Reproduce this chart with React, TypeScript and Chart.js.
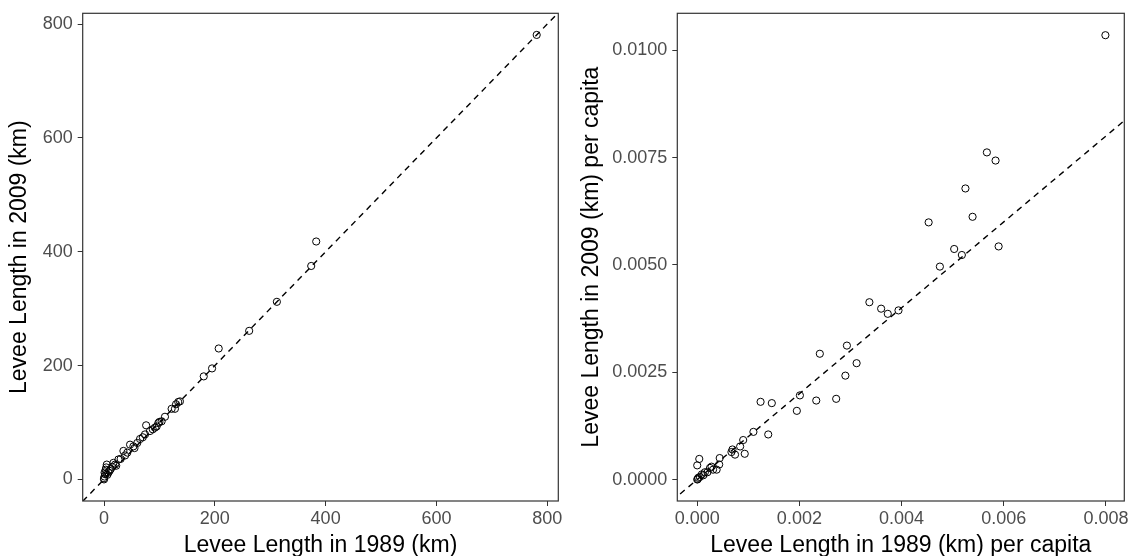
import React, { useEffect, useRef } from "react";
import { Chart, registerables } from "chart.js";
Chart.register(...registerables);

// Left panel: total levee length (km)
const levee1989 = [781, 383, 374, 312, 262, 207, 195, 180, 137, 134, 130, 128, 122, 110, 104, 100, 98, 95, 92, 76, 74, 70, 65, 60, 53, 47, 42, 35, 30, 26, 20, 17, 12, 10, 8, 5, 4, 3, 2, 1, 0, 0, 1, 6, 15, 22, 38, 55, 83, 88];
const levee2009 = [781, 418, 375, 312, 261, 230, 195, 181, 137, 136, 132, 124, 124, 110, 102, 101, 99, 93, 91, 95, 79, 74, 71, 64, 58, 61, 47, 50, 36, 35, 26, 29, 18, 15, 12, 26, 21, 17, 9, 5, 0, 2, 12, 8, 22, 24, 42, 55, 85, 88];

// Right panel: levee length per capita
const perCap1989 = [0.00799, 0.00567, 0.00584, 0.00525, 0.00539, 0.00453, 0.00503, 0.00518, 0.0059, 0.00475, 0.00337, 0.0036, 0.00373, 0.00394, 0.00293, 0.0024, 0.00312, 0.0029, 0.00201, 0.00233, 0.00272, 0.00124, 0.00146, 0.00195, 0.0011, 0.00139, 0.0009, 0.00084, 0.00069, 0.00067, 0.00074, 0.00093, 0.00044, 0.00004, 0.0, 0.00043, 0.00038, 0.00025, 0.00015, 0.00009, 0.00002, 0.0, 0.00031, 0.0002, 0.00012, 0.00005, 0.00028, 0.00001];
const perCap2009 = [0.01035, 0.00762, 0.00743, 0.00678, 0.00612, 0.00599, 0.00537, 0.00523, 0.00543, 0.00496, 0.00413, 0.00398, 0.00386, 0.00394, 0.00312, 0.00293, 0.00271, 0.00242, 0.00196, 0.00184, 0.00188, 0.00181, 0.00178, 0.0016, 0.00111, 0.00105, 0.00092, 0.00077, 0.0007, 0.00064, 0.00058, 0.0006, 0.0005, 0.00048, 0.00033, 0.00035, 0.00023, 0.00027, 0.00017, 0.00012, 0.00004, 0.0, 0.00023, 0.00017, 0.0001, 0.00006, 0.0003, 0.00001];

const leftTicks = [0, 200, 400, 600, 800];
const rightXTicks = [0, 0.002, 0.004, 0.006, 0.008];
const rightYTicks = [0, 0.0025, 0.005, 0.0075, 0.01];

const leftXRange = [-38.5, 820];
const leftYRange = [-38, 819];
const rightXRange = [-0.00039, 0.00836];
const rightYRange = [-0.0005, 0.01086];

const FONT = "'Liberation Sans', Arial, sans-serif";

const borderPlugin = {
  id: "panelBorder",
  afterDraw(chart: any) {
    const { ctx, chartArea } = chart;
    ctx.save();
    ctx.strokeStyle = "#333333";
    ctx.lineWidth = 1.2;
    ctx.strokeRect(chartArea.left, chartArea.top, chartArea.right - chartArea.left, chartArea.bottom - chartArea.top);
    ctx.restore();
  },
};

function makeConfig(
  xs: number[],
  ys: number[],
  xr: number[],
  yr: number[],
  xt: number[],
  yt: number[],
  xFmt: (v: number) => string,
  yFmt: (v: number) => string,
  xTitle: string,
  yTitle: string,
  yAxisWidth: number,
  padRight: number,
  yTitlePad: number
): any {
  const lo = Math.min(xr[0], yr[0]);
  const hi = Math.max(xr[1], yr[1]);
  const axisCommon = (ticks: number[], fmt: (v: number) => string, title: string, isX: boolean) => ({
    type: "linear",
    position: isX ? "bottom" : "left",
    min: isX ? xr[0] : yr[0],
    max: isX ? xr[1] : yr[1],
    afterBuildTicks: (scale: any) => {
      scale.ticks = ticks.map((v) => ({ value: v }));
    },
    afterFit: (scale: any) => {
      if (isX) {
        scale.height = 55;
        scale.paddingLeft = 0;
        scale.paddingRight = 0;
      } else {
        scale.width = yAxisWidth;
        scale.paddingTop = 0;
        scale.paddingBottom = 0;
      }
    },
    grid: {
      display: true,
      drawOnChartArea: false,
      drawTicks: true,
      tickLength: 5,
      color: "#333333",
      lineWidth: 1,
    },
    border: { display: false },
    ticks: {
      autoSkip: false,
      maxRotation: 0,
      padding: isX ? 2 : 5,
      color: "#4D4D4D",
      font: { family: FONT, size: 18 },
      callback: (v: any) => fmt(Number(v)),
    },
    title: {
      display: true,
      text: title,
      color: "#000000",
      font: isX ? { family: FONT, size: 23, lineHeight: 0.9 } : { family: FONT, size: 23 },
      padding: isX ? { top: 0, bottom: 0 } : { top: yTitlePad, bottom: 0 },
    },
  });
  return {
    type: "scatter",
    data: {
      datasets: [
        {
          type: "line",
          data: [
            { x: lo, y: lo },
            { x: hi, y: hi },
          ],
          borderColor: "#000000",
          borderWidth: 1.4,
          borderDash: [6, 5],
          pointRadius: 0,
          fill: false,
          order: 1,
        },
        {
          data: xs.map((x, i) => ({ x, y: ys[i] })),
          pointStyle: "circle",
          pointRadius: 3.6,
          pointBorderWidth: 1,
          pointBorderColor: "#000000",
          pointBackgroundColor: "rgba(0,0,0,0)",
          order: 2,
        },
      ],
    },
    options: {
      animation: false,
      responsive: false,
      devicePixelRatio: 1,
      layout: { padding: { left: 0, right: padRight, top: 13.3, bottom: 0 } },
      plugins: { legend: { display: false }, tooltip: { enabled: false } },
      scales: {
        x: axisCommon(xt, xFmt, xTitle, true),
        y: axisCommon(yt, yFmt, yTitle, false),
      },
    },
    plugins: [borderPlugin],
  };
}

export default function App() {
  const leftRef = useRef<HTMLCanvasElement>(null);
  const rightRef = useRef<HTMLCanvasElement>(null);

  useEffect(() => {
    const c1 = new Chart(
      leftRef.current as HTMLCanvasElement,
      makeConfig(
        levee1989,
        levee2009,
        leftXRange,
        leftYRange,
        leftTicks,
        leftTicks,
        (v) => String(Math.round(v)),
        (v) => String(Math.round(v)),
        "Levee Length in 1989 (km)",
        "Levee Length in 2009 (km)",
        82.7,
        6.7,
        6
      )
    );
    const c2 = new Chart(
      rightRef.current as HTMLCanvasElement,
      makeConfig(
        perCap1989,
        perCap2009,
        rightXRange,
        rightYRange,
        rightXTicks,
        rightYTicks,
        (v) => v.toFixed(3),
        (v) => v.toFixed(4),
        "Levee Length in 1989 (km) per capita",
        "Levee Length in 2009 (km) per capita",
        112.3,
        5.7,
        13
      )
    );
    return () => {
      c1.destroy();
      c2.destroy();
    };
  }, []);

  return (
    <div style={{ position: "absolute", left: 0, top: 0, width: 1130, height: 556, background: "#ffffff", overflow: "hidden" }}>
      <canvas ref={leftRef} width={565} height={556} style={{ position: "absolute", left: 0, top: 0, width: 565, height: 556 }} />
      <canvas ref={rightRef} width={565} height={556} style={{ position: "absolute", left: 565, top: 0, width: 565, height: 556 }} />
    </div>
  );
}
